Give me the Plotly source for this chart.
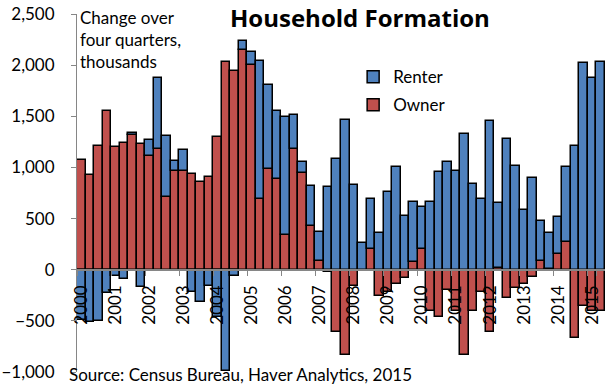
import plotly.graph_objects as go

# Quarterly categories 2000Q1 .. 2015Q2
years = list(range(2000, 2016))
quarters = [f"{y}Q{q}" for y in years for q in range(1, 5)][:62]
tick_vals = [f"{y}Q1" for y in years]
tick_text = [str(y) for y in years]

# Change over four quarters, thousands
owner = [1070, 925, 1210, 1550, 1200, 1235, 1315, 1225,
         1110, 1180, 710, 965, 965, 935, 855, 905,
         1300, 2030, 1945, 2150, 2000, 690, 985, 885,
         340, 1180, 945, 425, 85, -20, -610, -835,
         -155, -15, 200, -255, -220, -140, -80, 75,
         200, -405, -460, -195, -405, -835, -405, -220,
         -610, 15, -275, -180, -140, -70, 85, 5,
         155, 270, -665, -350, -405, -405]
renter = [-490, -515, -505, -230, -65, -90, 20, -165,
          155, 695, 595, 95, 205, -220, -320, -155,
          -460, -990, -65, 90, 130, 1355, 825, 665,
          1150, 330, 105, 390, 285, 805, 1080, 1460,
          825, 260, 490, 360, 760, 1005, 525, 590,
          410, 665, 955, 1050, 965, 1325, 835, 690,
          1450, 635, 1275, 1010, 585, 895, 390, 355,
          360, 735, 1210, 2020, 1870, 2030]

y_ticks = [-1000, -500, 0, 500, 1000, 1500, 2000, 2500]

FONT = "Lato"
fig = go.Figure()
fig.add_trace(go.Bar(x=quarters, y=owner, name="Owner", legendgroup="o", legendrank=2,
                     marker=dict(color="#C0504D", line=dict(color="black", width=1.5))))
fig.add_trace(go.Bar(x=quarters, y=renter, name="Renter", legendgroup="r", legendrank=1,
                     marker=dict(color="#4F81BD", line=dict(color="black", width=1.5))))

ymin, ymax = -1000, 2500
fig.update_layout(
    width=613, height=387,
    margin=dict(l=77, r=8, t=14, b=15),
    plot_bgcolor="white", paper_bgcolor="white",
    barmode="relative", bargap=0,
    font=dict(family=FONT, size=16, color="black"),
    legend=dict(x=0.523, y=0.874, xanchor="left", yanchor="top",
                traceorder="grouped", tracegroupgap=3,
                font=dict(size=17, family=FONT),
                bgcolor="rgba(0,0,0,0)"),
    xaxis=dict(type="category", categoryorder="array", categoryarray=quarters,
               range=[-0.5, len(quarters) - 0.5], automargin=False,
               anchor="free", position=(0 - ymin) / (ymax - ymin),
               showline=True, linecolor="#868686", linewidth=1.5,
               tickmode="array", tickvals=tick_vals, ticktext=tick_text,
               tickson="boundaries", ticks="outside", ticklen=6, tickcolor="#868686",
               tickangle=-90, tickfont=dict(size=17, family=FONT),
               ticklabelstandoff=8,
               showgrid=False, zeroline=False),
    yaxis=dict(range=[ymin, ymax], tickvals=y_ticks, tickformat=",", automargin=False,
               showline=True, linecolor="#868686", linewidth=1,
               ticks="outside", ticklen=5, tickcolor="#868686",
               tickfont=dict(size=17, family=FONT),
               ticklabelstandoff=13,
               showgrid=False, zeroline=False),
    annotations=[
        dict(text="<b>Household Formation</b>", xref="paper", yref="paper",
             x=0.536, y=0.989, xanchor="center", yanchor="middle",
             showarrow=False, font=dict(size=24, family="Open Sans", color="black")),
        dict(text="Change over<br>four quarters,<br>thousands", xref="paper", yref="paper",
             x=0.001, y=1.024, xanchor="left", yanchor="top", align="left",
             showarrow=False, font=dict(size=17, family=FONT, color="black")),
        dict(text="Source: Census Bureau, Haver Analytics, 2015", xref="paper", yref="paper",
             x=-0.019, y=-0.041, xanchor="left", yanchor="bottom",
             showarrow=False, font=dict(size=17, family=FONT, color="black")),
    ],
)

fig.write_html("out.html", config={"displayModeBar": False},
               post_script="document.body.style.margin='0';")
